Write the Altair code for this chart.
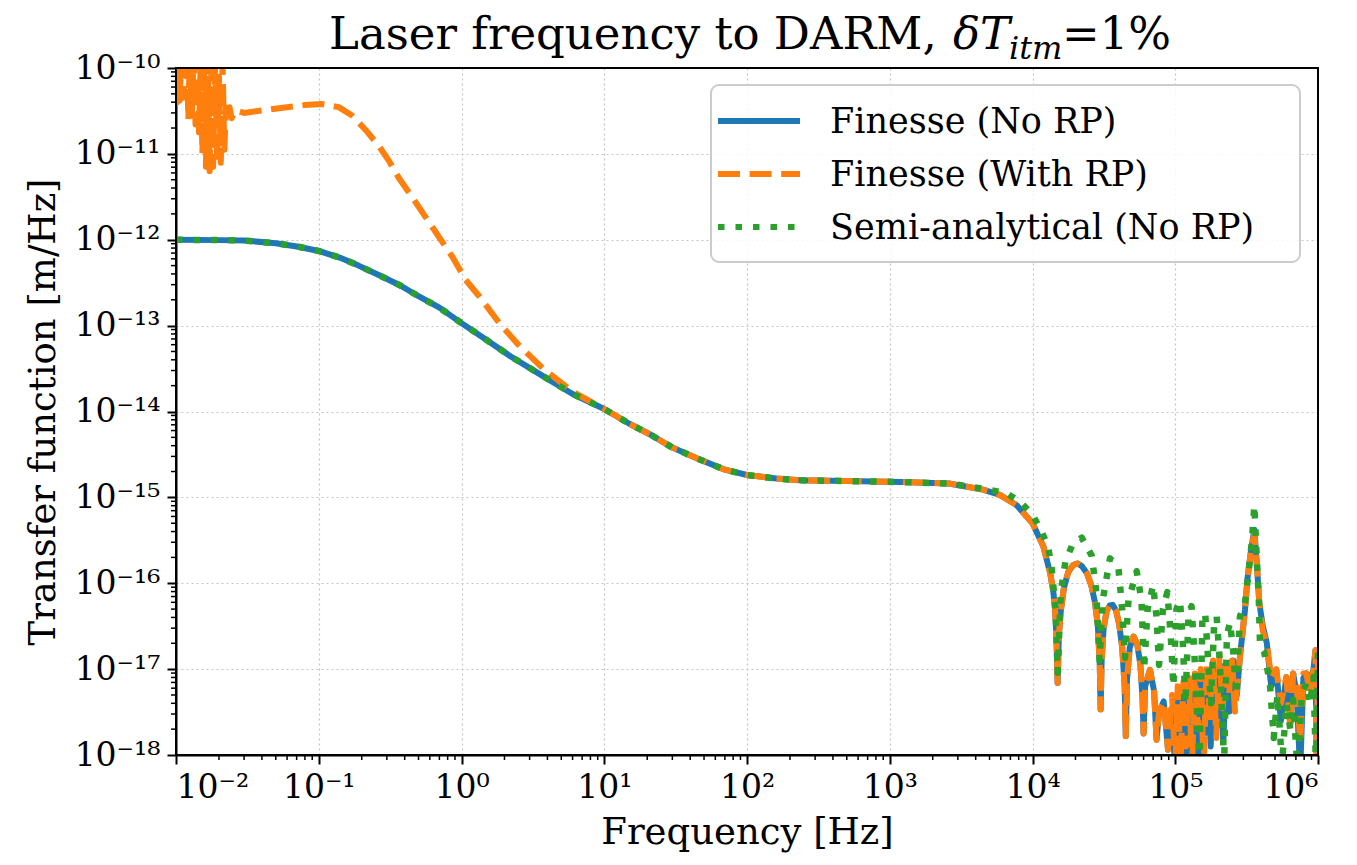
import json
import altair as alt
import pandas as pd

# ---------------- data ----------------
S_BLUE = "Finesse (No RP)"
S_ORANGE = "Finesse (With RP)"
S_GREEN = "Semi-analytical (No RP)"

# Finesse (No RP)
blue_f = [0.01, 0.02, 0.03, 0.05, 0.072, 0.1, 0.14, 0.19, 0.27, 0.37, 0.5, 0.7, 1.0, 1.5, 2.2, 3.7, 6, 10,
          15, 21, 30, 47, 70, 100, 160, 235, 500, 1200, 2600, 4500, 5900, 7750, 1.0e4, 1.19e4, 1.33e4, 1.4e4,
          1.44e4, 1.47e4, 1.5e4, 1.53e4, 1.58e4, 1.66e4, 1.78e4, 1.92e4, 2.06e4, 2.22e4, 2.4e4, 2.58e4, 2.74e4,
          2.87e4, 2.96e4, 3.0e4, 3.05e4, 3.15e4, 3.3e4, 3.47e4, 3.65e4, 3.85e4, 4.05e4, 4.25e4, 4.42e4, 4.5e4,
          4.6e4, 4.8e4, 5.1e4, 5.4e4, 5.7e4, 5.9e4, 6.0e4, 6.15e4, 6.65e4, 7.1e4, 7.4e4, 7.7e4, 8.3e4, 8.9e4,
          9.5e4, 1.0e5, 1.05e5, 1.1e5, 1.15e5, 1.2e5, 1.26e5, 1.32e5, 1.38e5, 1.45e5, 1.52e5, 1.6e5, 1.68e5,
          1.77e5, 1.86e5, 1.96e5, 2.06e5, 2.17e5, 2.28e5, 2.4e5, 2.55e5, 2.7e5, 2.84e5, 3.08e5, 3.2e5, 3.4e5,
          3.58e5, 3.75e5, 3.88e5, 4.1e5, 4.38e5, 4.7e5, 5.1e5, 5.5e5, 6.0e5, 6.4e5, 6.7e5, 7.1e5, 7.5e5, 7.9e5,
          8.3e5, 8.8e5, 9.3e5, 9.6e5, 9.8e5, 1.0e6]
blue_v = [1.0e-12, 9.9e-13, 9.8e-13, 9.1e-13, 8.3e-13, 7.4e-13, 6.2e-13, 5.0e-13, 3.8e-13, 2.95e-13, 2.2e-13,
          1.62e-13, 1.07e-13, 6.8e-14, 4.4e-14, 2.6e-14, 1.6e-14, 1.07e-14,
          7.2e-15, 5.4e-15, 3.8e-15, 2.75e-15, 2.1e-15, 1.82e-15, 1.66e-15, 1.58e-15, 1.55e-15, 1.51e-15, 1.45e-15,
          1.23e-15, 1.07e-15, 8.1e-16, 5.0e-16, 2.7e-16, 1.32e-16, 7.9e-17,
          4.9e-17, 2.5e-17, 6.9e-18, 2.5e-17, 4.8e-17, 8.9e-17, 1.35e-16, 1.62e-16, 1.7e-16, 1.58e-16, 1.32e-16,
          9.5e-17, 6.0e-17,
          3.2e-17, 1.12e-17, 3.4e-18, 1.26e-17, 3.0e-17, 4.7e-17, 5.5e-17, 5.6e-17, 4.8e-17, 3.3e-17, 1.78e-17,
          6.3e-18, 1.66e-18,
          7.9e-18, 1.78e-17, 2.4e-17, 2.0e-17, 1.12e-17, 4.5e-18, 1.78e-18, 6.3e-18, 9.8e-18, 5.6e-18, 1.51e-18,
          3.2e-18, 4.2e-18, 1.15e-18,
          3.5e-18, 6.3e-19, 5.0e-18, 1.12e-18, 5.6e-18, 6.3e-19, 6.3e-18, 1.41e-18, 7.1e-18, 6.3e-19, 7.9e-18,
          1.78e-18, 8.9e-18,
          1.26e-18, 1.0e-17, 2.2e-18, 1.12e-17, 1.41e-18, 1.12e-17, 3.2e-18, 1.26e-17, 5.0e-18, 1.41e-17, 4.9e-17,
          1.1e-16, 2.45e-16,
          4.2e-16, 1.45e-16, 5.9e-17, 3.2e-17, 2.0e-17, 6.3e-18, 9.8e-18, 2.5e-18, 8.1e-18, 3.2e-18, 8.9e-18,
          5.0e-18, 6.3e-19, 7.9e-18,
          8.9e-18, 7.1e-18, 1.0e-17, 1.66e-17, 6.3e-19, 1.41e-17]

# Finesse (With RP): low-frequency part, shared middle part, high-frequency part
orange_low_f = [0.0100, 0.0102, 0.0104, 0.0106, 0.0109, 0.0112, 0.0115, 0.0119, 0.0122, 0.0125, 0.0129, 0.0133,
                0.0137, 0.0141, 0.0145, 0.0149, 0.0153, 0.0157, 0.0162, 0.0167, 0.0172, 0.0177, 0.0182, 0.0188,
                0.0194, 0.0200, 0.0206, 0.0212, 0.0218, 0.0224, 0.0230, 0.0237, 0.0245, 0.026, 0.03, 0.04, 0.06,
                0.08, 0.105, 0.138, 0.171, 0.213, 0.264, 0.31, 0.365, 0.453, 0.562, 0.697, 0.865, 1.07, 1.33, 1.84,
                2.5, 3.7, 6, 10]
orange_low_v = [1.26e-10, 4.0e-11, 1.58e-10, 4.2e-11, 1.41e-10, 4.5e-11, 7.9e-11, 1.58e-10, 2.5e-11, 1.58e-10,
                2.8e-11, 1.41e-10, 2.2e-11, 1.26e-10, 1.78e-11, 1.26e-10, 1.0e-11, 1.12e-10, 7.1e-12, 1.26e-10,
                6.3e-12, 1.0e-10, 7.1e-12, 1.12e-10, 7.9e-12, 7.9e-11, 7.9e-12, 1.12e-10, 1.12e-11, 3.5e-11,
                2.5e-11, 3.5e-11, 2.6e-11, 3.2e-11, 3.0e-11, 3.2e-11, 3.5e-11, 3.7e-11, 3.8e-11, 3.5e-11, 2.8e-11,
                1.9e-11, 1.23e-11, 8.3e-12, 5.2e-12, 3.1e-12, 1.82e-12, 1.07e-12, 6.3e-13, 3.4e-13, 2.2e-13,
                1.07e-13, 6.0e-14, 3.2e-14, 1.7e-14, 1.07e-14]
orange_high_f = [9.5e4, 1.0e5, 1.04e5, 1.09e5, 1.14e5, 1.19e5, 1.25e5, 1.31e5, 1.37e5, 1.44e5, 1.51e5, 1.58e5,
                 1.66e5, 1.75e5, 1.84e5, 1.94e5, 2.04e5, 2.15e5, 2.26e5, 2.38e5, 2.5e5, 2.62e5, 2.84e5, 3.08e5,
                 3.2e5, 3.4e5, 3.58e5, 3.75e5, 3.88e5, 4.1e5, 4.38e5, 4.7e5, 5.1e5, 5.5e5, 6.0e5, 6.4e5, 6.7e5,
                 7.1e5, 7.5e5, 7.9e5, 8.3e5, 8.8e5, 9.3e5, 9.6e5, 9.8e5, 1.0e6]
orange_high_v = [5.0e-18, 6.3e-19, 6.3e-18, 7.9e-19, 7.1e-18, 1.26e-18, 7.9e-18, 6.3e-19, 8.9e-18, 2.0e-18,
                 1.0e-17, 6.3e-19, 1.12e-17, 2.5e-18, 1.26e-17, 1.58e-18, 1.41e-17, 3.5e-18, 1.26e-17, 5.0e-18,
                 1.26e-17, 3.2e-18, 1.41e-17, 4.9e-17, 1.1e-16, 2.45e-16, 3.8e-16, 1.45e-16, 5.9e-17, 2.8e-17,
                 2.0e-17, 7.9e-18, 1.0e-17, 4.0e-18, 8.1e-18, 2.0e-18, 8.9e-18, 6.3e-18, 1.38e-18, 8.9e-18,
                 8.9e-18, 5.0e-18, 1.0e-17, 1.66e-17, 6.3e-19, 1.26e-17]

# Semi-analytical (No RP): high-frequency part (the low part follows the Finesse curve)
green_high_f = [4500, 6600, 8400, 1.0e4, 1.16e4, 1.29e4, 1.36e4, 1.45e4, 1.5e4, 1.58e4, 1.7e4, 1.9e4, 2.21e4,
                2.6e4, 2.8e4, 2.95e4, 3.1e4, 3.49e4, 4.0e4, 4.25e4, 4.45e4, 4.7e4, 5.37e4, 5.8e4, 6.05e4, 6.4e4,
                7.0e4, 7.4e4, 7.7e4, 8.2e4, 8.8e4, 9.3e4, 9.7e4, 1.02e5, 1.08e5, 1.13e5, 1.18e5, 1.24e5, 1.3e5,
                1.36e5, 1.42e5, 1.48e5, 1.55e5, 1.62e5, 1.7e5, 1.78e5, 1.87e5, 1.95e5, 2.05e5, 2.2e5, 2.3e5,
                2.42e5, 2.55e5, 2.68e5, 2.84e5, 3.08e5, 3.25e5, 3.45e5, 3.58e5, 3.7e5, 3.85e5, 3.93e5, 4.2e5,
                4.6e5, 4.9e5, 5.2e5, 5.6e5, 6.0e5, 6.4e5, 6.7e5, 7.2e5, 7.7e5, 8.3e5, 8.8e5, 9.3e5, 9.7e5, 1.0e6]
green_high_v = [1.26e-15, 1.12e-15, 8.5e-16, 6.3e-16, 4.0e-16, 2.6e-16, 1.55e-16, 5.0e-17, 9.1e-18, 7.9e-17,
                1.78e-16, 2.8e-16, 3.4e-16, 2.1e-16, 7.9e-17, 1.26e-17, 6.3e-17, 1.95e-16, 1.51e-16, 5.0e-17,
                1.35e-17, 6.3e-17, 1.38e-16, 6.3e-17, 1.0e-17, 5.0e-17, 9.5e-17, 4.0e-17, 1.12e-17, 5.0e-17,
                7.9e-17, 2.5e-17, 6.3e-18, 5.0e-17, 6.3e-17, 2.0e-17, 4.0e-18, 4.5e-17, 5.4e-17, 1.58e-17,
                3.2e-18, 7.9e-19, 4.0e-17, 4.5e-17, 1.26e-17, 4.0e-18, 3.2e-17, 4.1e-17, 1.26e-17, 7.9e-19,
                2.5e-17, 3.5e-17, 1.58e-17, 5.0e-18, 4.1e-17, 5.9e-17, 1.26e-16, 3.2e-16, 8.1e-16, 2.5e-16,
                6.3e-17, 1.82e-17, 1.58e-17, 6.9e-18, 1.58e-18, 5.0e-18, 7.9e-19, 4.0e-18, 2.0e-18, 4.4e-18,
                6.3e-19, 5.0e-18, 6.9e-18, 4.0e-18, 8.1e-18, 6.3e-19, 1.58e-17]

# axis ticks and labels
x_tick_values = [1e-2, 1e-1, 1e0, 1e1, 1e2, 1e3, 1e4, 1e5, 1e6]
x_tick_labels = ["10⁻²", "10⁻¹", "10⁰", "10¹", "10²", "10³", "10⁴", "10⁵", "10⁶"]
y_tick_values = [1e-18, 1e-17, 1e-16, 1e-15, 1e-14, 1e-13, 1e-12, 1e-11, 1e-10]
y_tick_labels = ["10⁻¹⁸", "10⁻¹⁷", "10⁻¹⁶", "10⁻¹⁵", "10⁻¹⁴", "10⁻¹³", "10⁻¹²", "10⁻¹¹", "10⁻¹⁰"]
x_minor = [k * 10.0 ** e for e in range(-2, 6) for k in range(2, 10)]
y_minor = [k * 10.0 ** e for e in range(-18, -10) for k in range(2, 10)]

# ---------------- build tables ----------------
def frame(name, fs, vs):
    return pd.DataFrame({"f": fs, "v": vs, "series": name, "i": list(range(len(fs)))})

df_blue = frame(S_BLUE, blue_f, blue_v)
mid = [(f, v) for f, v in zip(blue_f, blue_v) if 10 < f < 9.2e4]
df_orange = frame(S_ORANGE,
                  orange_low_f + [m[0] for m in mid] + orange_high_f,
                  orange_low_v + [m[1] for m in mid] + orange_high_v)
low = [(f, v) for f, v in zip(blue_f, blue_v) if f <= 2600]
df_green = frame(S_GREEN, [m[0] for m in low] + green_high_f, [m[1] for m in low] + green_high_v)

df_xminor = pd.DataFrame({"f": x_minor})
df_yminor = pd.DataFrame({"v": y_minor})

# ---------------- styling ----------------
FONT = "DejaVu Serif"
W, H = 1142, 687
C_BLUE, C_ORANGE, C_GREEN = "#1f77b4", "#ff7f0e", "#2ca02c"

x_scale = alt.Scale(type="log", domain=[1e-2, 1e6], nice=False)
y_scale = alt.Scale(type="log", domain=[1e-18, 1e-10], nice=False)

axis_common = dict(grid=True, gridDash=[2, 3], gridColor="#c4c4c4", gridWidth=1.2,
                   tickSize=9, tickWidth=2, tickColor="black",
                   domain=True, domainColor="black", domainWidth=2,
                   labelFont=FONT, labelFontSize=33, labelColor="black", labelPadding=7,
                   titleFont=FONT, titleFontSize=37, titleFontWeight="normal", titleColor="black")

x_axis = alt.Axis(values=x_tick_values, title="Frequency [Hz]", titlePadding=10,
                  labelExpr=json.dumps(x_tick_labels, ensure_ascii=False) + "[round(log(datum.value)/LN10) + 2]",
                  **axis_common)
y_axis = alt.Axis(values=y_tick_values, title="Transfer function [m/Hz]", titlePadding=12,
                  labelExpr=json.dumps(y_tick_labels, ensure_ascii=False) + "[round(log(datum.value)/LN10) + 18]",
                  **axis_common)


def X():
    return alt.X("f:Q", scale=x_scale, axis=x_axis)


def Y():
    return alt.Y("v:Q", scale=y_scale, axis=y_axis)


LW = 6
blue_line = alt.Chart(df_blue).mark_line(color=C_BLUE, strokeWidth=LW, clip=True, strokeJoin="round").encode(
    x=X(), y=Y(), order="i:Q")
orange_line = alt.Chart(df_orange).mark_line(color=C_ORANGE, strokeWidth=LW, clip=True, strokeJoin="round",
                                             strokeCap="butt", strokeDash=[22, 9.6]).encode(
    x=X(), y=Y(), order="i:Q")
green_line = alt.Chart(df_green).mark_line(color=C_GREEN, strokeWidth=LW + 0.5, clip=True, strokeJoin="round",
                                           strokeCap="butt", strokeDash=[6.5, 11]).encode(
    x=X(), y=Y(), order="i:Q")

x_minor_ticks = alt.Chart(df_xminor).mark_rule(color="black", strokeWidth=1.5).encode(
    x=X(), y=alt.value(H), y2=alt.value(H + 5))
y_minor_ticks = alt.Chart(df_yminor).mark_rule(color="black", strokeWidth=1.5).encode(
    y=Y(), x=alt.value(0), x2=alt.value(-5))

one = pd.DataFrame({"k": [0]})

# plot frame (all four spines)
frame_box = alt.Chart(one).mark_rect(fill=None, fillOpacity=0, stroke="black", strokeWidth=2).encode(
    x=alt.value(0), x2=alt.value(W), y=alt.value(0), y2=alt.value(H))

# legend (drawn by hand, matplotlib style)
LX0, LX1, LY0, LY1 = 535, 1124, 17, 194
legend_box = alt.Chart(one).mark_rect(fill="white", fillOpacity=0.85, stroke="#cccccc", strokeWidth=2,
                                      cornerRadius=8).encode(
    x=alt.value(LX0), x2=alt.value(LX1), y=alt.value(LY0), y2=alt.value(LY1))

legend_layers = [legend_box]
entries = [(S_BLUE, C_BLUE, None, 53), (S_ORANGE, C_ORANGE, [22, 9.6], 106), (S_GREEN, C_GREEN, [6.5, 11], 159)]
for name, col, dash, yy in entries:
    kw = dict(color=col, strokeWidth=LW, strokeCap="butt")
    if dash is not None:
        kw["strokeDash"] = dash
    legend_layers.append(alt.Chart(one).mark_rule(**kw).encode(
        x=alt.value(542), x2=alt.value(624), y=alt.value(yy)))
    legend_layers.append(alt.Chart(pd.DataFrame({"t": [name]})).mark_text(
        font=FONT, fontSize=35, align="left", baseline="middle", color="black").encode(
        x=alt.value(654), y=alt.value(yy + 1), text="t:N"))

# title composed of pieces (regular, italic, subscript)
title_parts = [("Laser frequency to DARM, ", 153, -19, 45, "normal"),
               ("δT", 777, -19, 45, "italic"),
               ("itm", 833, -9, 32, "italic"),
               ("=1%", 886, -19, 45, "normal")]
title_layers = []
for txt, tx, ty, fs, style in title_parts:
    title_layers.append(alt.Chart(pd.DataFrame({"t": [txt]})).mark_text(
        font=FONT, fontSize=fs, fontStyle=style, align="left", baseline="alphabetic", color="black").encode(
        x=alt.value(tx), y=alt.value(ty), text="t:N"))

chart = alt.layer(blue_line, orange_line, green_line, x_minor_ticks, y_minor_ticks, frame_box,
                  *legend_layers, *title_layers).properties(
    width=W, height=H,
    autosize=alt.AutoSizeParams(type="none"),
    padding={"left": 168, "top": 60, "right": 31, "bottom": 102},
    background="white",
).configure_view(stroke="black", strokeWidth=2)

chart.save("out.html", embed_options={"renderer": "svg", "actions": False})
